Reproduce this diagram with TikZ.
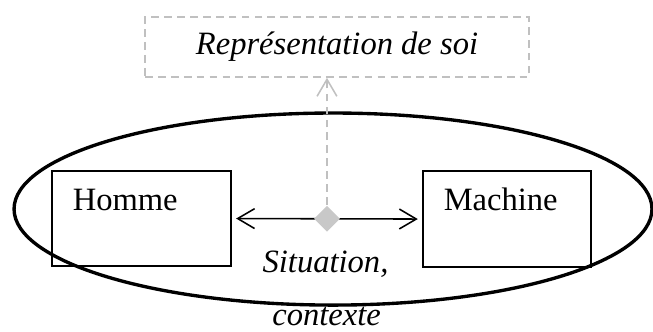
\documentclass[tikz,border=0pt]{standalone}
\usepackage{fontspec}
\setmainfont{Liberation Serif}
\usepackage{tikz}
\usetikzlibrary{arrows.meta, shapes.geometric}
\definecolor{dashgrey}{RGB}{192,192,192}
\definecolor{linkgrey}{RGB}{200,200,200}
\tikzset{
  agent/.style={draw, line width=0.6pt, inner sep=0pt},
  selfbox/.style={draw=dashgrey, line width=0.6pt, dash pattern=on 3pt off 2pt, inner sep=0pt},
  link/.style={diamond, fill=linkgrey, inner sep=0pt, minimum width=0.36cm, minimum height=0.36cm},
  barb/.tip={Straight Barb[length=0.23cm, width=0.27cm]}
}

\begin{document}
\begin{tikzpicture}[font=\fontsize{12.6}{15}\selectfont]
    \useasboundingbox (0, 0) rectangle (8.881, 4.502);

    \draw[line width=1.3pt] (4.529, 1.659) ellipse [x radius=4.338, y radius=1.306];

    \node[agent, minimum width=2.434cm, minimum height=1.292cm] (homme) at (1.924, 1.530) {};
    \node[agent, minimum width=2.285cm, minimum height=1.306cm] (machine) at (6.895, 1.523) {};
    \node[anchor=base west, inner sep=0pt] (hommetext) at ([shift={(0.286, -0.544)}] homme.north west) {Homme};
    \node[anchor=base west, inner sep=0pt] (machinetext) at ([shift={(0.286, -0.544)}] machine.north west) {Machine};

    \node[selfbox, minimum width=5.222cm, minimum height=0.816cm] (self) at (4.583, 3.862) {\itshape Représentation de soi};

    \draw[barb-barb, line width=0.6pt, shorten <=0.06cm, shorten >=0.06cm]
      (homme.east) -- node[link] (mid) {} (machine.west);
    \draw[-barb, dashgrey, line width=0.6pt, dash pattern=on 3pt off 2pt]
      (mid.north) -- (mid.north |- self.south);

    \node[anchor=base, inner sep=0pt] (situation) at (4.427, 0.802) {\itshape Situation,};
    \node[anchor=base, inner sep=0pt] (contexte) at (4.441, 0.082) {\itshape contexte};
\end{tikzpicture}
\end{document}
